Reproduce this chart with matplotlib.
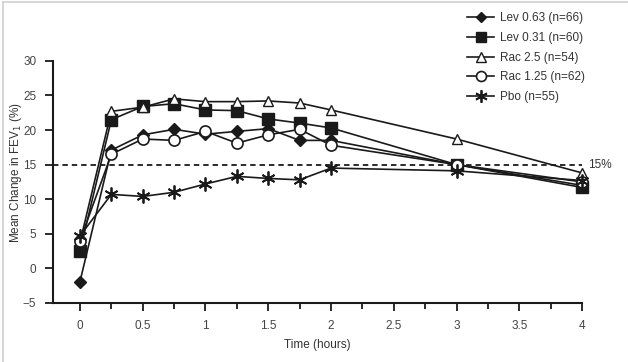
import matplotlib.pyplot as plt
from matplotlib.lines import Line2D

plt.rcParams['font.family'] = ['Liberation Sans Narrow', 'Liberation Sans', 'DejaVu Sans']

hours = [0, 0.25, 0.5, 0.75, 1, 1.25, 1.5, 1.75, 2, 3, 4]
lev063 = [-1.9, 17.1, 19.3, 20.1, 19.4, 19.8, 20.2, 18.5, 18.5, 15.0, 12.0]
lev031 = [2.5, 21.5, 23.4, 23.8, 22.9, 22.8, 21.6, 21.0, 20.3, 15.0, 11.7]
rac25 = [3.8, 22.7, 23.3, 24.5, 24.1, 24.1, 24.2, 23.9, 22.9, 18.7, 13.8]
rac125 = [4.0, 16.5, 18.7, 18.5, 19.8, 18.1, 19.3, 20.1, 17.8, 15.0, 12.5]
pbo = [4.7, 10.7, 10.4, 11.0, 12.2, 13.3, 13.0, 12.8, 14.5, 14.1, 12.7]

labels = ["Lev 0.63 (n=66)", "Lev 0.31 (n=60)", "Rac 2.5 (n=54)",
          "Rac 1.25 (n=62)", "Pbo (n=55)"]
series = [lev063, lev031, rac25, rac125, pbo]
ink = '#1a1a1a'
styles = [
    dict(marker='D', ms=6, mfc=ink),
    dict(marker='s', ms=8, mfc=ink),
    dict(marker='^', ms=7.5, mfc='white'),
    dict(marker='o', ms=8, mfc='white', mew=1.2),
    dict(marker=(6, 2, 0), ms=10, mfc=ink, mew=1.3),
]
fs = 8.5

fig = plt.figure(figsize=(6.28, 3.62), dpi=100)
ax = fig.add_axes([0.0844, 0.163, 0.8424, 0.669])

ax.axhline(15, color=ink, ls=(0, (3, 2.2)), lw=1.3, zorder=1)

handles = []
for ys, lab, st in zip(series, labels, styles):
    h, = ax.plot(hours, ys, color=ink, lw=1.2, mec=ink, label=lab,
                 clip_on=False, zorder=3, **st)
    handles.append(h)

ax.text(4.05, 15, "15%", fontsize=fs, color='#333333', va='center', ha='left')

ax.set_xlim(-0.215, 4.0)
ax.set_ylim(-5, 30)
ax.set_xticks([0, 0.5, 1, 1.5, 2, 2.5, 3, 3.5, 4])
ax.set_xticklabels(['0', '0.5', '1', '1.5', '2', '2.5', '3', '3.5', '4'])
ax.set_xticks([0.25, 0.75, 1.25, 1.75, 2.25, 2.75, 3.25, 3.75], minor=True)
ax.set_yticks(range(-5, 31, 5))
ax.tick_params(axis='both', which='major', length=6, width=1.3, colors=ink,
               labelcolor='#444444', labelsize=fs, direction='out', pad=6)
ax.tick_params(axis='x', which='minor', length=4, width=1.3, colors=ink)
for side in ['top', 'right']:
    ax.spines[side].set_visible(False)
for side in ['left', 'bottom']:
    ax.spines[side].set_linewidth(1.5)
    ax.spines[side].set_color(ink)

ax.set_xlabel("Time (hours)", fontsize=fs, color='#333333', labelpad=5)
ax.set_ylabel("Mean Change in FEV$_1$ (%)", fontsize=fs, color='#333333')
ax.yaxis.set_label_coords(-0.055, 0.54)

fig.legend(handles=handles, loc='upper left', bbox_to_anchor=(0.727, 0.995),
           frameon=False, fontsize=fs, handlelength=2.3, handletextpad=0.5,
           labelspacing=0.65, labelcolor='#333333', markerscale=0.9)

# faint frame of the original image
fig.add_artist(Line2D([0.005, 1.0], [0.994, 0.994], color='#d0d0d0', lw=1.2))
fig.add_artist(Line2D([0.005, 0.005], [0.0, 0.994], color='#d0d0d0', lw=1.2))

fig.savefig("out.png", dpi=100)
